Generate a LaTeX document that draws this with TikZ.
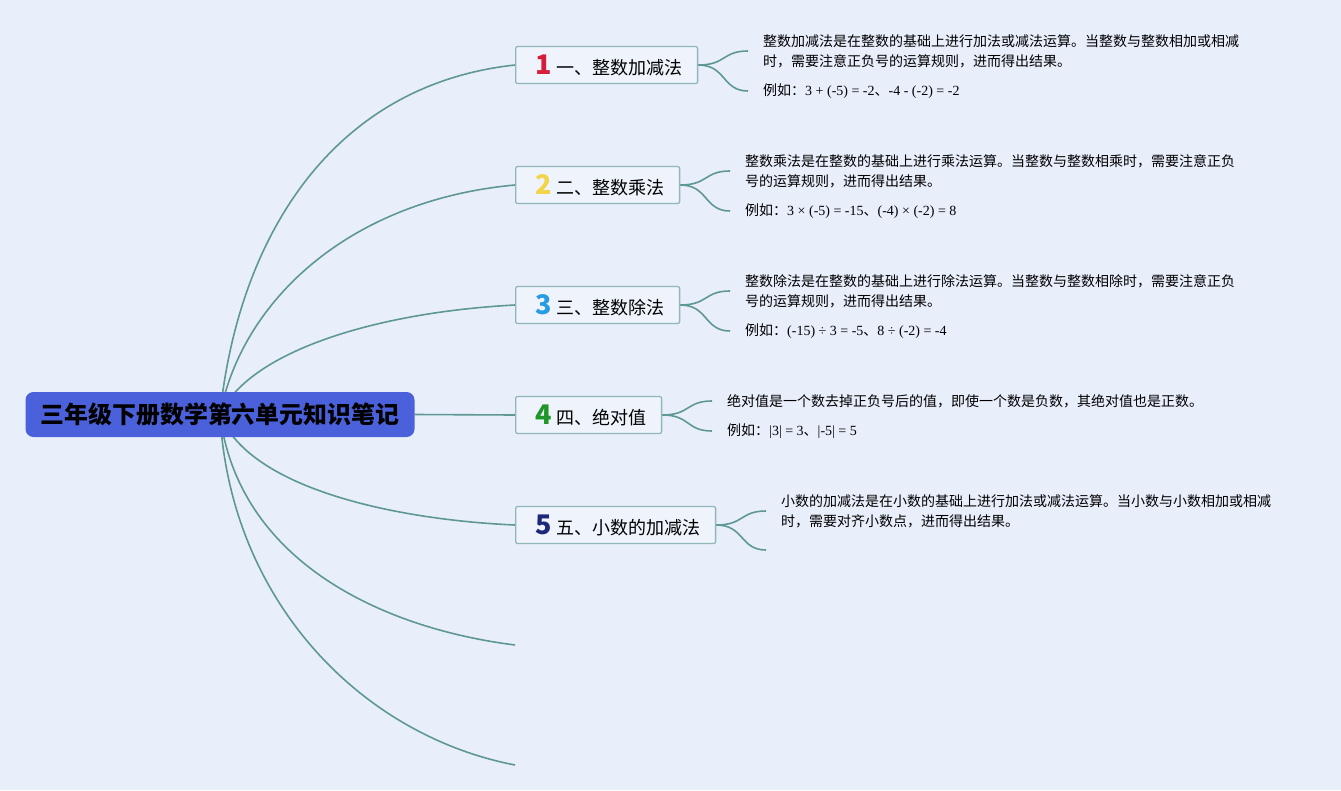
\documentclass[tikz,border=0pt]{standalone}
\usepackage{fontspec}
\setmainfont{Liberation Serif}
\newfontfamily\cjk{Noto Sans CJK SC}
\usetikzlibrary{positioning}
\definecolor{MmBack}{RGB}{233,238,251}
\definecolor{MmRoot}{RGB}{74,97,219}
\definecolor{MmLink}{RGB}{94,152,148}
\definecolor{MmEdge}{RGB}{143,184,186}
\definecolor{MmFill}{RGB}{238,243,252}
\definecolor{MmRed}{RGB}{214,30,58}
\definecolor{MmYellow}{RGB}{242,212,72}
\definecolor{MmBlue}{RGB}{40,156,226}
\definecolor{MmGreen}{RGB}{30,150,40}
\definecolor{MmNavy}{RGB}{30,40,120}
\pgfdeclarelayer{back}
\pgfdeclarelayer{links}
\pgfsetlayers{back,links,main}
\tikzset{
  mm/root/.style={
    draw=none,
    fill=MmRoot,
    rounded corners=8pt,
    minimum width=389pt,
    minimum height=45pt,
    inner sep=0pt,
    font=\cjk\bfseries\fontsize{23.9}{26}\selectfont,
    text=black
  },
  mm/box/.style={
    draw=MmEdge,
    line width=1.3pt,
    rounded corners=2pt,
    fill=MmFill,
    anchor=west,
    minimum height=37pt,
    inner xsep=15pt,
    inner ysep=0pt,
    font=\cjk\fontsize{18}{22}\selectfont,
    text=black
  },
  mm/text/.style={
    anchor=west,
    align=left,
    inner xsep=15pt,
    inner ysep=0pt,
    font=\cjk\fontsize{14}{20}\selectfont,
    text=black
  },
  mm/link/.style={draw=MmLink, line width=1.6pt},
  mm/fork/.style={draw=MmLink, line width=1.6pt}
}
\newcommand{\mmnum}[2]{\hspace{5pt}{\bfseries\fontsize{27}{27}\selectfont\color{#1}#2}\hspace{4.5pt}}
\newcommand{\mmeg}[1]{{\cjk 例如：}{\rmfamily #1}}

\begin{document}
\begin{tikzpicture}[x=1pt,y=-1pt]
  \begin{pgfonlayer}{back}
    \fill[MmBack] (0,0) rectangle (1341,790);
  \end{pgfonlayer}
  \useasboundingbox (0,0) rectangle (1341,790);

  \node[mm/root] (root) at (220,414.5) {三年级下册数学第六单元知识笔记};

  \node[mm/box] (add) at (515,65) {\mmnum{MmRed}{1}一、整数加减法};
  \node[mm/box] (mul) at (515,185) {\mmnum{MmYellow}{2}二、整数乘法};
  \node[mm/box] (div) at (515,305) {\mmnum{MmBlue}{3}三、整数除法};
  \node[mm/box] (abs) at (515,415) {\mmnum{MmGreen}{4}四、绝对值};
  \node[mm/box] (dec) at (515,525) {\mmnum{MmNavy}{5}五、小数的加减法};
  \coordinate (six) at (515,645);
  \coordinate (seven) at (515,765);

  % notes
  \node[mm/text] (addA) at (748,51) {整数加减法是在整数的基础上进行加法或减法运算。当整数与整数相加或相减\\时，需要注意正负号的运算规则，进而得出结果。};
  \node[mm/text] (addB) at (748,91) {\mmeg{3 + (-5) = -2{\cjk 、}-4 - (-2) = -2}};
  \node[mm/text] (mulA) at (730,171) {整数乘法是在整数的基础上进行乘法运算。当整数与整数相乘时，需要注意正负\\号的运算规则，进而得出结果。};
  \node[mm/text] (mulB) at (730,211) {\mmeg{3 × (-5) = -15{\cjk 、}(-4) × (-2) = 8}};
  \node[mm/text] (divA) at (730,291) {整数除法是在整数的基础上进行除法运算。当整数与整数相除时，需要注意正负\\号的运算规则，进而得出结果。};
  \node[mm/text] (divB) at (730,331) {\mmeg{(-15) ÷ 3 = -5{\cjk 、}8 ÷ (-2) = -4}};
  \node[mm/text] (absA) at (712,401) {绝对值是一个数去掉正负号后的值，即使一个数是负数，其绝对值也是正数。};
  \node[mm/text] (absB) at (712,431) {\mmeg{|3| = 3{\cjk 、}|-5| = 5}};
  \node[mm/text] (decA) at (766,511) {小数的加减法是在小数的基础上进行加法或减法运算。当小数与小数相加或相减\\时，需要对齐小数点，进而得出结果。};
  \coordinate (decB) at (766,550);

  \begin{pgfonlayer}{links}
    \draw[mm/link] (root.center) .. controls (238,240) and (330,85) .. (add.west);
    \draw[mm/link] (root.center) .. controls (242,300) and (350,200) .. (mul.west);
    \draw[mm/link] (root.center) .. controls (250,350) and (380,312) .. (div.west);
    \draw[mm/link] (root.east) -- (abs.west);
    \draw[mm/link] (root.center) .. controls (250,490) and (400,520) .. (dec.west);
    \draw[mm/link] (root.center) .. controls (238,560) and (380,628) .. (six);
    \draw[mm/link] (root.center) .. controls (230,600) and (360,735) .. (seven);
    % forks
    \foreach \from/\to in {add/addA,add/addB,mul/mulA,mul/mulB,div/divA,div/divB,abs/absA,abs/absB,dec/decA}
      \draw[mm/fork] (\from.east) .. controls ([xshift=28pt]\from.east) and ([xshift=-26pt]\to.west) .. (\to.west);
    \draw[mm/fork] (dec.east) .. controls ([xshift=28pt]dec.east) and ([xshift=-26pt]decB) .. (decB);
  \end{pgfonlayer}
\end{tikzpicture}
\end{document}
